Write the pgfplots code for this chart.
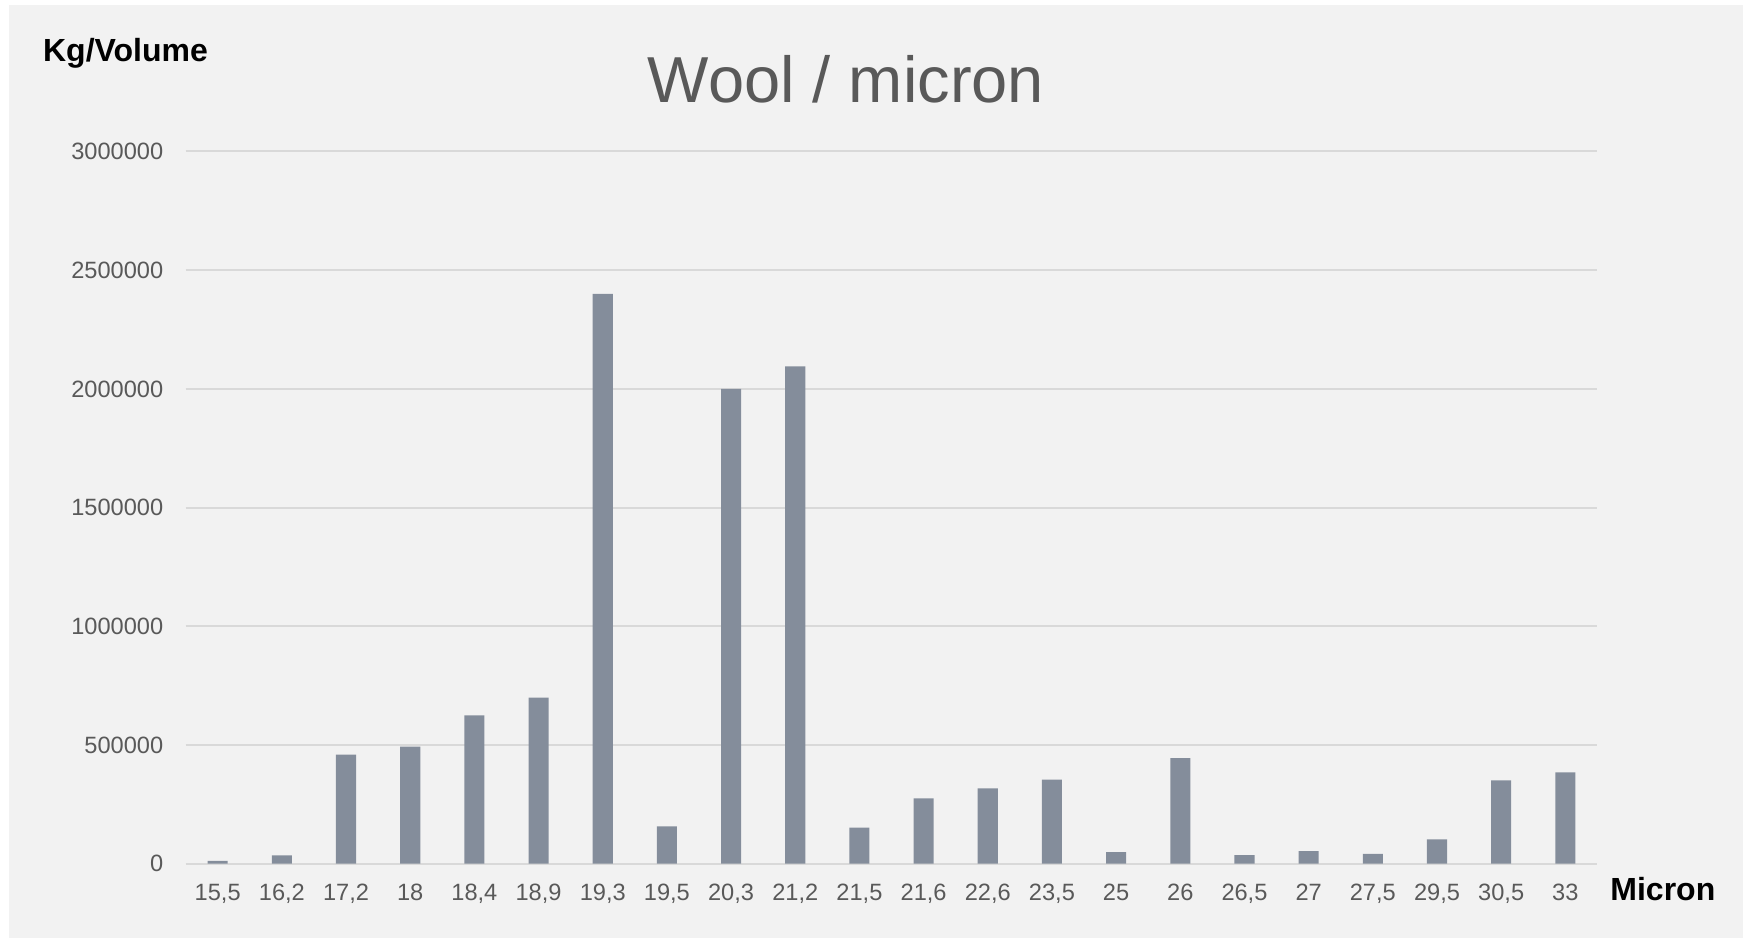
\documentclass[border=0pt]{standalone}
\usepackage{pgfplots}
\pgfplotsset{compat=1.18}
\usepackage{fontspec}
\setmainfont{Liberation Sans}
\definecolor{panel}{HTML}{F2F2F2}
\definecolor{barc}{HTML}{848D9B}
\definecolor{gridc}{HTML}{D9D9D9}
\definecolor{txt}{HTML}{595959}

\begin{document}
\begin{tikzpicture}[x=0.5pt,y=0.5pt]
  % canvas in pixel units of the reference (y up)
  \path[use as bounding box] (0,0) rectangle (1743,938);
  \fill[white] (0,0) rectangle (1743,938);
  \fill[panel] (9,0) rectangle (1743,933);

  \begin{axis}[
    at={(92.8pt,37.15pt)}, anchor=south west,
    scale only axis, width=705.9pt, height=356.1pt,
    ybar, bar width=0.313, bar shift=0pt,
    xmin=-0.5, xmax=21.5, ymin=0, ymax=3000000,
    xtick={0,...,21},
    xticklabels={{15,5},{16,2},{17,2},{18},{18,4},{18,9},{19,3},{19,5},{20,3},{21,2},{21,5},
                 {21,6},{22,6},{23,5},{25},{26},{26,5},{27},{27,5},{29,5},{30,5},{33}},
    ytick={0,500000,1000000,1500000,2000000,2500000,3000000},
    yticklabels={0,500000,1000000,1500000,2000000,2500000,3000000},
    scaled y ticks=false,
    axis line style={draw=none},
    major tick length=0pt,
    ymajorgrids, grid style={gridc, line width=1pt},
    tick label style={font=\fontsize{11.8}{14}\selectfont, text=txt},
    yticklabel style={inner sep=0pt, xshift=-11pt},
    xticklabel style={inner sep=0pt, yshift=-10pt},
  ]
    \addplot[fill=barc, draw=none] coordinates {
      (0,12000) (1,35000) (2,460000) (3,493000) (4,625000) (5,700000)
      (6,2400000) (7,157000) (8,2000000) (9,2095000) (10,152000) (11,275000)
      (12,317000) (13,354000) (14,49000) (15,445000) (16,36500) (17,53000)
      (18,41000) (19,102500) (20,351000) (21,385000)
    };
  \end{axis}

  \node[anchor=base, inner sep=0pt, text=txt, font=\fontsize{32.5}{38}\selectfont] at (846,835.3) {Wool / micron};
  \node[anchor=base west, inner sep=0pt, font=\fontsize{16}{19}\selectfont\bfseries] at (42.7,876.3) {Kg/Volume};
  \node[anchor=base west, inner sep=0pt, font=\fontsize{16}{19}\selectfont\bfseries] at (1610,38) {Micron};
\end{tikzpicture}
\end{document}
